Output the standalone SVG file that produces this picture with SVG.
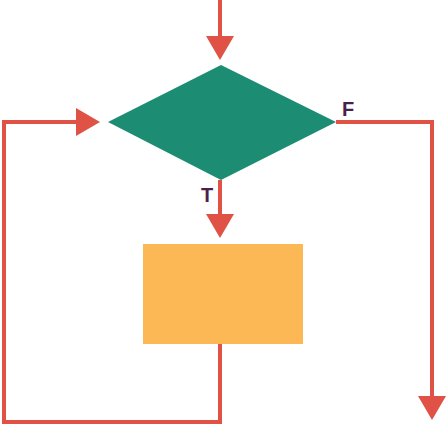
<svg xmlns="http://www.w3.org/2000/svg" width="448" height="427" viewBox="0 0 448 427">
<style>
.ln{fill:none;stroke:#e05245;stroke-width:4}
.ah{fill:#e05245}
.lb{font-family:"Liberation Sans",Arial,sans-serif;font-weight:bold;font-size:20px;fill:#4b1f4b}
</style>
<g id="connectors">
<path class="ln" d="M220,0 V38"/>
<polygon class="ah" points="206,36 234,36 220,60"/>
<path class="ln" d="M220,180 V216"/>
<polygon class="ah" points="206,214 234,214 220,238"/>
<path class="ln" d="M220,344 V422 H4 V122 H78"/>
<polygon class="ah" points="76,108 76,136 100,122"/>
<path class="ln" d="M336,122 H432 V398"/>
<polygon class="ah" points="418,396 446,396 432,420"/>
</g>
<g id="decision"><polygon points="108,122 221,65 336,122 221,180" fill="#1c8c73"/></g>
<g id="process"><rect x="143" y="244" width="160" height="100" fill="#fbb855"/></g>
<g id="labelF"><text class="lb" x="342" y="116">F</text></g>
<g id="labelT"><text class="lb" x="201" y="202">T</text></g>
</svg>
